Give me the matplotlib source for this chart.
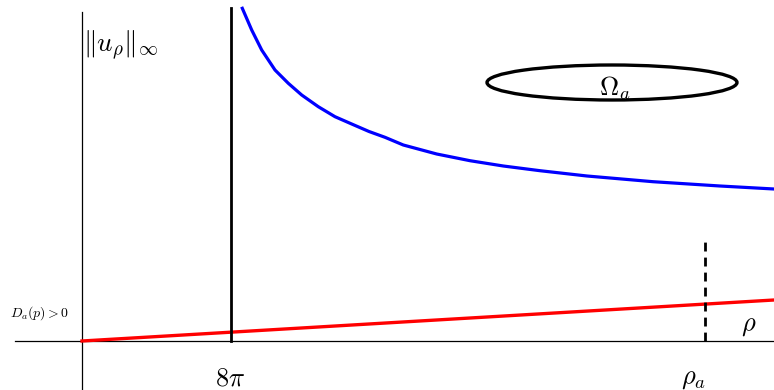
import matplotlib
matplotlib.use("Agg")
import matplotlib.pyplot as plt
from matplotlib.patches import Ellipse

plt.rcParams['mathtext.fontset'] = 'cm'

# data coordinates: origin at the axes crossing
blue_x = [160.3, 169.7, 179.7, 193, 206.3, 219.7, 236.3, 253, 269.7, 287,
          303, 321.3, 354.7, 388, 421.3, 458, 505, 571, 638, 692]
blue_y = [332.7, 311, 291, 271, 257.7, 246, 234.3, 224.3, 217, 209.5,
          203.7, 196, 187, 180.3, 175, 170.3, 165, 159.3, 155, 152]
red_x = [0, 692]
red_y = [0, 41]
crit_x = 149       # 8π
rho_a_x = 623      # ρ_a
rho_a_top = 99
crit_top = 333
ell_center = (530, 258.5)
ell_size = (250, 35)

fig = plt.figure(figsize=(7.74, 3.9), dpi=100)
ax = fig.add_axes([0, 0, 1, 1])
ax.set_xlim(-82, 692)
ax.set_ylim(-49, 341)
ax.axis('off')

# axes
ax.plot([-67, 692], [0, 0], color='black', lw=0.9)
ax.plot([0, 0], [-49, 329], color='black', lw=0.9)

ax.plot(blue_x, blue_y, color='#0000ff', lw=2.3, solid_joinstyle='round')
ax.plot(red_x, red_y, color='#ff0000', lw=2.4)
ax.plot([crit_x, crit_x], [0, crit_top], color='black', lw=2.0)
ax.plot([rho_a_x, rho_a_x], [0, rho_a_top], color='black', lw=2.0,
        linestyle=(0, (3.2, 2.2)))

ax.add_patch(Ellipse(ell_center, ell_size[0], ell_size[1], fill=False,
                     edgecolor='black', lw=2.4))

ax.text(1, 296, r'$\Vert u_\rho\Vert_\infty$', fontsize=19.5, ha='left', va='center')
ax.text(533, 253, r'$\Omega_a$', fontsize=19, ha='center', va='center')
ax.text(667, 16, r'$\rho$', fontsize=19, ha='center', va='center')
ax.text(148, -37, r'$8\pi$', fontsize=19, ha='center', va='center')
ax.text(611, -37, r'$\rho_a$', fontsize=19, ha='center', va='center')
ax.text(-42, 28, r'$D_a(p)>0$', fontsize=10, ha='center', va='center')

fig.savefig('out.png', dpi=100)
